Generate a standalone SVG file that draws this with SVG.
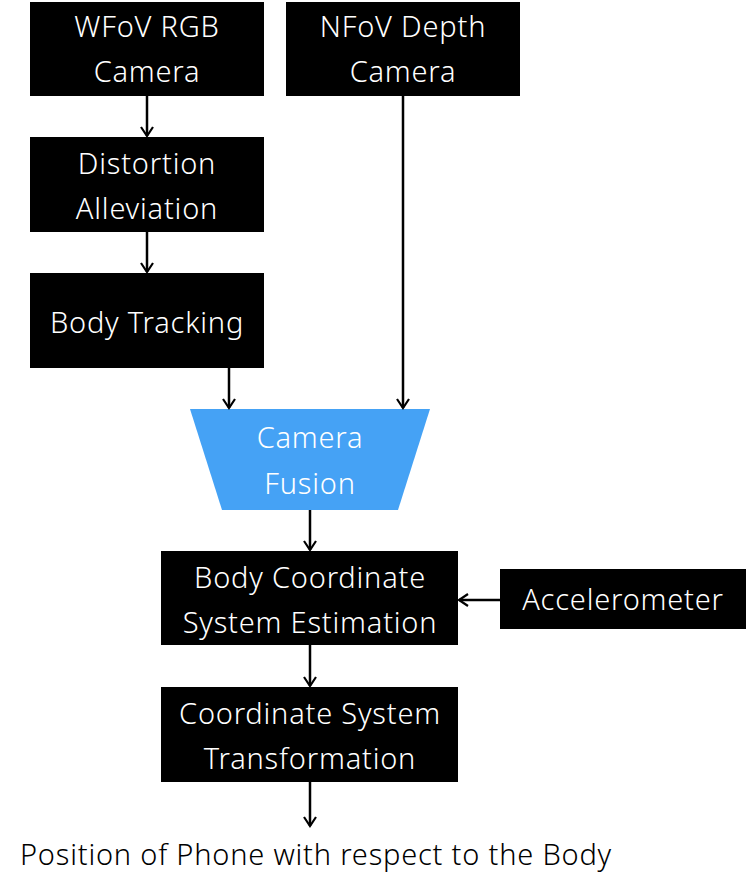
<svg xmlns="http://www.w3.org/2000/svg" width="748" height="883" viewBox="0 0 748 883">
<defs>
<marker id="ah" viewBox="0 0 14 14" refX="11" refY="7" markerWidth="14" markerHeight="14" markerUnits="userSpaceOnUse" orient="auto">
<path d="M2,1 L11,7 L2,13" fill="none" stroke="#000" stroke-width="2.2"/>
</marker>
<style>
.box{fill:#000}
.t{font-family:"Noto Sans","Liberation Sans",sans-serif;font-weight:300;font-size:29px;letter-spacing:0.8px;fill:#fff;text-anchor:middle}
.c{stroke:#000;stroke-width:2.5;fill:none;marker-end:url(#ah)}
</style>
</defs>
<rect width="748" height="883" fill="#fff"/>
<g id="wfov"><rect class="box" x="30" y="2" width="234" height="94"/><text class="t" x="147" y="37">WFoV RGB</text><text class="t" x="147" y="82">Camera</text></g>
<g id="nfov"><rect class="box" x="286" y="2" width="234" height="94"/><text class="t" x="403" y="37">NFoV Depth</text><text class="t" x="403" y="82">Camera</text></g>
<g id="distortion"><rect class="box" x="30" y="137" width="234" height="95"/><text class="t" x="147" y="174">Distortion</text><text class="t" x="147" y="219">Alleviation</text></g>
<g id="bodytracking"><rect class="box" x="30" y="273" width="234" height="95"/><text class="t" x="147" y="333">Body Tracking</text></g>
<g id="fusion"><polygon points="190,409 430,409 398,510 222,510" fill="#45a2f5"/><text class="t" x="310" y="448">Camera</text><text class="t" x="310" y="494">Fusion</text></g>
<g id="bcse"><rect class="box" x="161" y="551" width="297" height="94"/><text class="t" x="310" y="588">Body Coordinate</text><text class="t" x="310" y="633">System Estimation</text></g>
<g id="accel"><rect class="box" x="500" y="569" width="246" height="60"/><text class="t" x="623" y="610">Accelerometer</text></g>
<g id="cst"><rect class="box" x="161" y="687" width="297" height="95"/><text class="t" x="310" y="724">Coordinate System</text><text class="t" x="310" y="769">Transformation</text></g>
<g id="output"><text class="t" style="fill:#000" x="316" y="865">Position of Phone with respect to the Body</text></g>
<g id="connectors">
<line class="c" x1="147" y1="96" x2="147" y2="136"/>
<line class="c" x1="147" y1="232" x2="147" y2="272"/>
<line class="c" x1="229" y1="368" x2="229" y2="408"/>
<line class="c" x1="403" y1="96" x2="403" y2="408"/>
<line class="c" x1="310" y1="510" x2="310" y2="550"/>
<line class="c" x1="500" y1="600" x2="459" y2="600"/>
<line class="c" x1="310" y1="645" x2="310" y2="686"/>
<line class="c" x1="310" y1="782" x2="310" y2="826"/>
</g>
</svg>
